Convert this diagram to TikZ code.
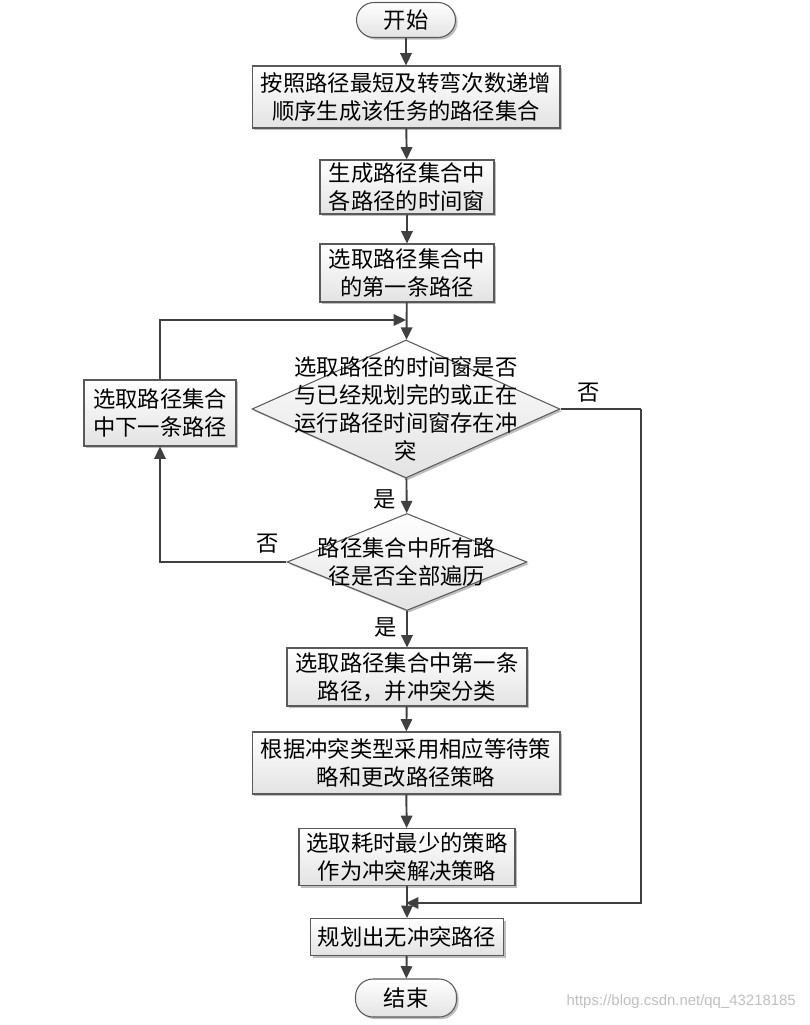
\documentclass[tikz,border=0pt]{standalone}
\usepackage{fontspec}
\newfontfamily\cjk{Noto Sans CJK SC}
\newfontfamily\wmfont{Liberation Sans}
\usepackage{tikz}
\usetikzlibrary{arrows.meta}
\usetikzlibrary{shapes.geometric}
\usetikzlibrary{shadows}
\definecolor{lineg}{HTML}{404040}
\definecolor{edgeg}{HTML}{5A5A5A}
\tikzset{
    base/.style={draw=edgeg, line width=0.6pt, top color=white, bottom color=black!11,
        font=\cjk\fontsize{12.7}{15.9}\selectfont, align=center, inner sep=0pt,
        drop shadow={shadow xshift=1.2pt, shadow yshift=-1.2pt, opacity=0.25, fill=black}}}
\tikzset{
    proc/.style={base, rectangle},
    term/.style={base, rectangle, rounded corners=0.35cm},
    decide/.style={base, diamond, aspect=2}}
\tikzset{flow/.style={draw=lineg, line width=1.1pt, -{Triangle[length=7pt,width=6.5pt]}}}
\tikzset{line/.style={draw=lineg, line width=1.1pt}}
\tikzset{yn/.style={font=\cjk\fontsize{12.7}{15.9}\selectfont}}

\begin{document}
\begin{tikzpicture}[x=0.02cm, y=-0.02cm]
                    \useasboundingbox (0,0) rectangle (810,1025);

                    \node[term, minimum width=1.98cm, minimum height=0.7cm] (start) at (406,20) {开始};
                    \node[proc, minimum width=6.16cm, minimum height=1.24cm] (sort) at (406,97) {按照路径最短及转弯次数递增\\顺序生成该任务的路径集合};
                    \node[proc, minimum width=3.48cm, minimum height=1.08cm] (win) at (407,187) {生成路径集合中\\各路径的时间窗};
                    \node[proc, minimum width=3.48cm, minimum height=1.16cm] (first) at (407,273) {选取路径集合中\\的第一条路径};
                    \node[decide, minimum width=6.16cm, minimum height=2.76cm,
                        label={[yn, align=center]center:选取路径的时间窗是否\\与已经规划完的或正在\\运行路径时间窗存在冲\\突}] (clash) at (406,409) {};
                    \node[proc, minimum width=3.04cm, minimum height=1.32cm] (next) at (160,413) {选取路径集合\\中下一条路径};
                    \node[decide, minimum width=4.8cm, minimum height=1.94cm,
                        label={[yn, align=center]center:路径集合中所有路\\径是否全部遍历}] (all) at (407,562) {};
                    \node[proc, minimum width=4.8cm, minimum height=1.16cm] (kind) at (407,677) {选取路径集合中第一条\\路径，并冲突分类};
                    \node[proc, minimum width=6.16cm, minimum height=1.24cm] (plan) at (406,763) {根据冲突类型采用相应等待策\\略和更改路径策略};
                    \node[proc, minimum width=4.32cm, minimum height=1.14cm] (best) at (407,857) {选取耗时最少的策略\\作为冲突解决策略};
                    \node[proc, minimum width=3.86cm, minimum height=0.74cm] (free) at (407,937) {规划出无冲突路径};
                    \node[term, minimum width=2.02cm, minimum height=0.76cm] (stop) at (406,998) {结束};

                    \coordinate (j1) at (406,320);
                    \coordinate (j2) at (406,903);
                    \coordinate (rt) at (641,409);

                    \draw[flow] (start) -- (sort);
                    \draw[flow] (sort) -- (win);
                    \draw[flow] (win) -- (first);
                    \draw[flow] (first) -- (clash);
                    \draw[flow] (clash) -- (all) node[yn, pos=0.6, left=2pt] {是};
                    \draw[flow] (all) -- (kind) node[yn, pos=0.45, left=2pt] {是};
                    \draw[flow] (kind) -- (plan);
                    \draw[flow] (plan) -- (best);
                    \draw[flow] (best) -- (free);
                    \draw[flow] (free) -- (stop);
                    \draw[flow] (next.north) |- (j1);
                    \draw[flow] (all.west) -| (next.south) node[yn, pos=0.075, above=1pt] {否};
                    \draw[line] (clash.east) -- (rt) node[yn, pos=0.35, above] {否};
                    \draw[flow] (rt) |- (j2);

                    \node[font=\wmfont\fontsize{8.5}{10}\selectfont, text=black!25, anchor=east] (mark) at (802,1002) {https://blog.csdn.net/qq\_43218185};

                \end{tikzpicture}
\end{document}
